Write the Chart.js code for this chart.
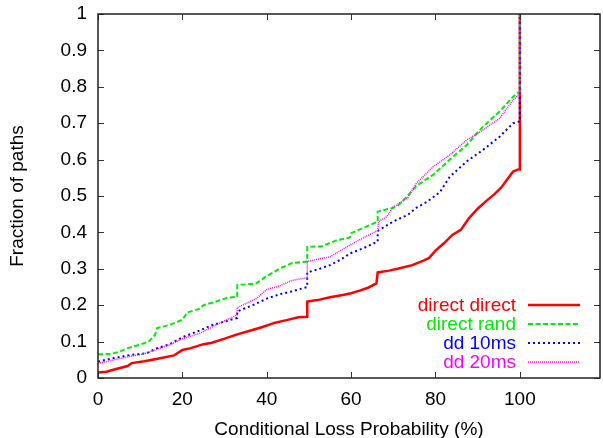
<!DOCTYPE html>
<html>
<head>
<meta charset="utf-8">
<script src="https://cdn.jsdelivr.net/npm/chart.js@4/dist/chart.umd.min.js"></script>
<style>
html,body{margin:0;padding:0;background:#fff;}
#c{display:block;}
</style>
</head>
<body>
<canvas id="c" width="603" height="438"></canvas>
<script>
// ---- data ----
const seriesLabels = ["direct direct", "direct rand", "dd 10ms", "dd 20ms"];

const directDirectX = [0, 2, 3.4, 7, 8, 11, 15, 18, 20, 22, 25, 27, 30, 33, 36, 39, 42, 44.7, 47.5, 49.6, 49.6, 52, 55, 58, 60, 62, 64, 66, 66.3, 69, 71, 74.5, 77, 78.5, 80, 82, 84, 86, 88, 90, 92, 94, 95.5, 97, 98.4, 99.6, 100, 100];
const directDirectY = [0.015, 0.017, 0.022, 0.033, 0.041, 0.046, 0.055, 0.062, 0.077, 0.082, 0.093, 0.097, 0.108, 0.12, 0.13, 0.14, 0.152, 0.159, 0.167, 0.168, 0.21, 0.214, 0.222, 0.228, 0.233, 0.24, 0.248, 0.26, 0.29, 0.295, 0.3, 0.31, 0.322, 0.33, 0.35, 0.37, 0.393, 0.407, 0.44, 0.465, 0.486, 0.505, 0.522, 0.545, 0.567, 0.573, 0.573, 1];

const directRandX = [0, 3, 5, 7, 9.5, 12, 13.5, 14, 17, 20, 21.2, 24, 25, 28, 30.5, 33, 33, 37.5, 40, 43, 46, 49.6, 49.6, 53, 56.5, 59.7, 60, 63.6, 66.3, 66.3, 70.8, 73.4, 75.5, 79.4, 83.4, 87.4, 91.2, 95.2, 98.4, 99.6, 100, 100];
const directRandY = [0.065, 0.066, 0.072, 0.082, 0.09, 0.1, 0.118, 0.137, 0.146, 0.16, 0.18, 0.19, 0.2, 0.21, 0.22, 0.223, 0.255, 0.26, 0.28, 0.3, 0.316, 0.32, 0.36, 0.362, 0.378, 0.386, 0.398, 0.416, 0.43, 0.457, 0.47, 0.5, 0.528, 0.558, 0.6, 0.64, 0.69, 0.732, 0.773, 0.784, 0.784, 1];

const dd10X = [0, 3.4, 7.5, 11.5, 14, 17, 20, 24, 27, 30, 33, 33, 36.7, 40, 43, 46, 49.6, 49.6, 52, 55, 57.5, 59.7, 62.8, 66.3, 66.3, 70, 73.4, 75.5, 78, 81, 83.4, 87.4, 91.2, 95.2, 98.4, 99.6, 100, 100];
const dd10Y = [0.045, 0.054, 0.063, 0.068, 0.082, 0.093, 0.112, 0.13, 0.145, 0.155, 0.165, 0.183, 0.2, 0.218, 0.23, 0.238, 0.25, 0.29, 0.298, 0.31, 0.325, 0.342, 0.356, 0.375, 0.404, 0.43, 0.448, 0.468, 0.484, 0.51, 0.553, 0.595, 0.626, 0.663, 0.7, 0.704, 0.704, 1];

const dd20X = [0, 3.4, 7.5, 11.5, 14.6, 17, 20, 24, 27.2, 31.2, 33, 33, 37.6, 40, 43, 46, 49.6, 49.6, 55, 59.7, 63.7, 66.3, 66.5, 68.4, 70, 73.4, 75.5, 79.4, 83.4, 87.4, 91.2, 95.2, 98.4, 99.6, 100, 100];
const dd20Y = [0.04, 0.049, 0.059, 0.068, 0.082, 0.091, 0.108, 0.122, 0.141, 0.164, 0.173, 0.193, 0.219, 0.243, 0.253, 0.268, 0.276, 0.32, 0.333, 0.365, 0.39, 0.405, 0.43, 0.443, 0.47, 0.495, 0.535, 0.58, 0.613, 0.654, 0.681, 0.713, 0.764, 0.777, 0.777, 1];

const xTickValues = [0, 20, 40, 60, 80, 100];
const yTickValues = [0, 0.1, 0.2, 0.3, 0.4, 0.5, 0.6, 0.7, 0.8, 0.9, 1];
const xTitle = "Conditional Loss Probability (%)";
const yTitle = "Fraction of paths";

// ---- build ----
const FONT = "'Liberation Sans', Arial, Helvetica, sans-serif";
const zip = (xs, ys) => xs.map((x, i) => ({x: x, y: ys[i]}));

const styles = [
  {color: '#ff0000', width: 2.5, dash: []},
  {color: '#00ee00', width: 2, dash: [5, 2.5]},
  {color: '#0000ff', width: 2, dash: [2, 3]},
  {color: '#ff00ff', width: 1.5, dash: [1, 1]}
];
const xs = [directDirectX, directRandX, dd10X, dd20X];
const ys = [directDirectY, directRandY, dd10Y, dd20Y];

const datasets = seriesLabels.map((lab, i) => ({
  label: lab,
  data: zip(xs[i], ys[i]),
  borderColor: styles[i].color,
  borderWidth: styles[i].width,
  borderDash: styles[i].dash,
  pointRadius: 0,
  fill: false,
  tension: 0,
  order: 3 - i
}));

const framePlugin = {
  id: 'frame',
  afterDraw(chart) {
    const {ctx, chartArea: a, scales} = chart;
    ctx.save();
    ctx.strokeStyle = '#333';
    ctx.lineWidth = 1;
    const TL = 6;
    xTickValues.forEach(v => {
      const px = Math.round(scales.x.getPixelForValue(v)) + 0.5;
      ctx.beginPath();
      ctx.moveTo(px, a.bottom); ctx.lineTo(px, a.bottom - TL);
      ctx.moveTo(px, a.top); ctx.lineTo(px, a.top + TL);
      ctx.stroke();
    });
    yTickValues.forEach(v => {
      const py = Math.round(scales.y.getPixelForValue(v)) + 0.5;
      ctx.beginPath();
      ctx.moveTo(a.left, py); ctx.lineTo(a.left + TL, py);
      ctx.moveTo(a.right, py); ctx.lineTo(a.right - TL, py);
      ctx.stroke();
    });
    ctx.strokeStyle = '#222';
    ctx.lineWidth = 1.5;
    ctx.strokeRect(a.left, a.top, a.right - a.left, a.bottom - a.top);

    ctx.font = '19px ' + FONT;
    ctx.textAlign = 'right';
    ctx.textBaseline = 'middle';
    const textRight = 516, sx0 = 528, sx1 = 580, y0 = 305, dy = 19;
    chart.data.datasets.forEach((ds, i) => {
      const y = y0 + i * dy;
      ctx.fillStyle = ds.borderColor;
      ctx.fillText(ds.label, textRight, y + 1);
      ctx.strokeStyle = ds.borderColor;
      ctx.lineWidth = ds.borderWidth;
      ctx.setLineDash(ds.borderDash);
      ctx.beginPath();
      ctx.moveTo(sx0, y); ctx.lineTo(sx1, y);
      ctx.stroke();
      ctx.setLineDash([]);
    });
    ctx.restore();
  }
};

new Chart(document.getElementById('c'), {
  type: 'line',
  data: {datasets: datasets},
  options: {
    responsive: false,
    animation: false,
    events: [],
    layout: {padding: {left: 0, right: 3, top: 14, bottom: 0}},
    plugins: {legend: {display: false}, tooltip: {enabled: false}},
    scales: {
      x: {
        type: 'linear', min: 0, max: 119,
        afterBuildTicks(s) { s.ticks = xTickValues.map(v => ({value: v})); },
        afterFit(s) { s.height = 60; s.paddingLeft = 0; s.paddingRight = 0; },
        grid: {display: false, drawTicks: false},
        border: {display: false},
        ticks: {color: '#000', font: {family: FONT, size: 19}, padding: 10, maxRotation: 0,
                callback: v => String(v)},
        title: {display: true, text: xTitle, color: '#000', font: {family: FONT, size: 19}, padding: {top: 11, bottom: -3}}
      },
      y: {
        type: 'linear', min: 0, max: 1,
        afterBuildTicks(s) { s.ticks = yTickValues.map(v => ({value: v})); },
        afterFit(s) { s.width = 98; s.paddingTop = 0; s.paddingBottom = 0; },
        grid: {display: false, drawTicks: false},
        border: {display: false},
        ticks: {color: '#000', font: {family: FONT, size: 19}, padding: 11,
                callback: v => String(Math.round(v * 10) / 10)},
        title: {display: true, text: yTitle, color: '#000', font: {family: FONT, size: 19}, padding: {top: 6, bottom: 0}}
      }
    }
  },
  plugins: [framePlugin]
});
</script>
</body>
</html>
